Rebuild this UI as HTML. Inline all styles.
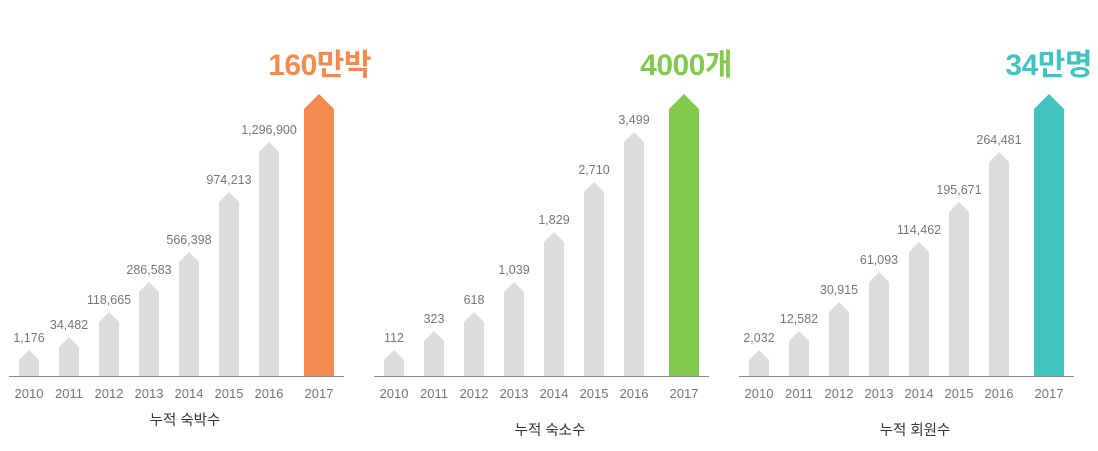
<!DOCTYPE html>
<html><head><meta charset="utf-8">
<style>
html,body{margin:0;padding:0;background:#fff;}
body{width:1098px;height:446px;overflow:hidden;font-family:"Liberation Sans","Noto Sans CJK KR",sans-serif;}
</style></head>
<body>
<svg id="chart" width="1098" height="446" viewBox="0 0 1098 446" xmlns="http://www.w3.org/2000/svg"></svg>
<script>
const years = ["2010","2011","2012","2013","2014","2015","2016","2017"];
const stayValues = ["1,176","34,482","118,665","286,583","566,398","974,213","1,296,900",""];
const stayLevels = [26,39,64,94,124,184,234,282];
const lodgeValues = ["112","323","618","1,039","1,829","2,710","3,499",""];
const lodgeLevels = [26,45,64,94,144,194,244,282];
const memberValues = ["2,032","12,582","30,915","61,093","114,462","195,671","264,481",""];
const memberLevels = [26,45,74,104,134,174,224,282];
const headlines = ["160만박","4000개","34만명"];
const titles = ["누적 숙박수","누적 숙소수","누적 회원수"];
const NS="http://www.w3.org/2000/svg";
const svg=document.getElementById('chart');
function mk(t,a){const e=document.createElementNS(NS,t);for(const k in a)e.setAttribute(k,a[k]);return e;}
const baseY=376;
function y(level){return baseY-level;}
function xCenter(i,off){return off+29+i*40+(i===7?10:0);}
const charts=[
 {off:0,values:stayValues,levels:stayLevels,color:"#f58a4e",titleY:425,hx:371,name:"stays"},
 {off:365,values:lodgeValues,levels:lodgeLevels,color:"#84c94f",titleY:435,hx:732,name:"lodgings"},
 {off:730,values:memberValues,levels:memberLevels,color:"#43c3be",titleY:435,hx:1092,name:"members"}
];
charts.forEach((c,ci)=>{
  const g=mk('g',{});
  
  
  svg.appendChild(g);
  const ax=mk('line',{x1:c.off+9,x2:c.off+344,y1:baseY+0.5,y2:baseY+0.5,stroke:'#888','stroke-width':1});
  
  
  g.appendChild(ax);
  years.forEach((yr,i)=>{
    const cx=xCenter(i,c.off);
    const big=i===7;
    const hw=big?15:10, th=big?15:10;
    const top=y(c.levels[i]);
    const p=mk('polygon',{points:`${cx-hw},${baseY} ${cx-hw},${top+th} ${cx},${top} ${cx+hw},${top+th} ${cx+hw},${baseY}`,fill:big?c.color:'#dddddd'});
    
    
    g.appendChild(p);
    if(c.values[i]){
      const t=mk('text',{x:cx,y:top-8,'text-anchor':'middle','font-size':12.5,fill:'#777'});
      t.textContent=c.values[i];
      
      
      g.appendChild(t);
    }
    const yl=mk('text',{x:cx,y:398,'text-anchor':'middle','font-size':13,fill:'#777'});
    yl.textContent=yr;
    
    
    g.appendChild(yl);
  });
  const h=mk('text',{x:c.hx,y:75,'text-anchor':'end','font-size':30,'font-weight':'bold',fill:c.color,'letter-spacing':'-0.5'});
  h.textContent=headlines[ci];
  
  
  g.appendChild(h);
  const tt=mk('text',{x:c.off+185,y:c.titleY,'text-anchor':'middle','font-size':14.5,fill:'#333'});
  tt.textContent=titles[ci];
  
  
  g.appendChild(tt);
});
</script>
</body></html>
